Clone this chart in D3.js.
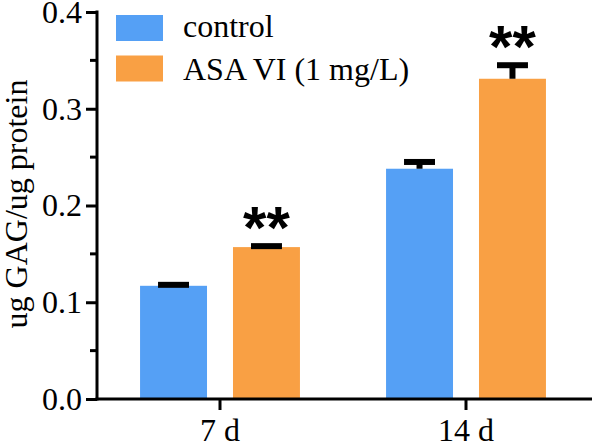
<!DOCTYPE html>
<html><head><meta charset="utf-8">
<script src="https://cdn.jsdelivr.net/npm/d3@7"></script>
<style>
html,body{margin:0;padding:0;background:#fff;}
svg{display:block;}
</style></head>
<body>
<svg id="chart" width="592" height="444"></svg>
<script>
const groups = ["7 d", "14 d"];
const series = ["control", "ASA VI (1 mg/L)"];
const controlValues = [0.117, 0.238];
const controlErrors = [0.001, 0.007];
const asaValues = [0.157, 0.331];
const asaErrors = [0.001, 0.014];
const controlSignificance = ["", ""];
const asaSignificance = ["**", "**"];
const yTicks = [0.0, 0.1, 0.2, 0.3, 0.4];
const yMinorTicks = [0.05, 0.15, 0.25, 0.35];
const yLabel = "ug GAG/ug protein";
const colors = ["#55A0F5", "#F9A044"];

const data = [];
groups.forEach((g, i) => {
  data.push({group: g, series: series[0], value: controlValues[i], err: controlErrors[i], sig: controlSignificance[i]});
  data.push({group: g, series: series[1], value: asaValues[i], err: asaErrors[i], sig: asaSignificance[i]});
});

const svg = d3.select("#chart");
const x0 = d3.scaleBand().domain(groups).range([97, 589]).paddingInner(0.35).paddingOuter(0.175);
const x1 = d3.scaleBand().domain(series).range([0, x0.bandwidth()]).paddingInner(0.2796).paddingOuter(0);
const y = d3.scaleLinear().domain([0, 0.4]).range([399, 12]);
const color = d3.scaleOrdinal().domain(series).range(colors);

const serif = "'Liberation Serif','Times New Roman',serif";
const fs = 32;

// bars
svg.append("g").selectAll("rect").data(data).join("rect")
  .attr("x", d => x0(d.group) + x1(d.series))
  .attr("y", d => y(d.value))
  .attr("width", x1.bandwidth())
  .attr("height", d => y(0) - y(d.value))
  .attr("fill", d => color(d.series));

// error bars
const eb = svg.append("g").attr("stroke", "#000");
eb.selectAll("line.stem").data(data).join("line").attr("class", "stem")
  .attr("x1", d => x0(d.group) + x1(d.series) + x1.bandwidth() / 2)
  .attr("x2", d => x0(d.group) + x1(d.series) + x1.bandwidth() / 2)
  .attr("y1", d => y(d.value))
  .attr("y2", d => y(d.value + d.err))
  .attr("stroke-width", 6);
eb.selectAll("line.cap").data(data).join("line").attr("class", "cap")
  .attr("x1", d => x0(d.group) + x1(d.series) + x1.bandwidth() / 2 - 15.5)
  .attr("x2", d => x0(d.group) + x1(d.series) + x1.bandwidth() / 2 + 15.5)
  .attr("y1", d => y(d.value + d.err))
  .attr("y2", d => y(d.value + d.err))
  .attr("stroke-width", 6);

// significance stars
svg.append("g").selectAll("text").data(data.filter(d => d.sig)).join("text")
  .attr("x", d => x0(d.group) + x1(d.series) + x1.bandwidth() / 2)
  .attr("y", d => y(d.value + d.err) + 2)
  .attr("text-anchor", "middle")
  .attr("font-family", "'Liberation Sans',Arial,sans-serif")
  .attr("font-weight", "bold")
  .attr("font-size", 60)
  .attr("fill", "#000")
  .text(d => d.sig);

// y axis
const yAxis = svg.append("g").attr("transform", "translate(97,0)")
  .call(d3.axisLeft(y).tickValues(yTicks).tickSize(11).tickSizeOuter(0).tickPadding(4).tickFormat(d3.format(".1f")));
yAxis.select(".domain").remove();
yAxis.selectAll(".tick line").attr("stroke", "#000").attr("stroke-width", 3);
yAxis.selectAll(".tick text").attr("font-family", serif).attr("font-size", fs).attr("fill", "#000");
yAxis.append("g").selectAll("line").data(yMinorTicks).join("line")
  .attr("x1", -7).attr("x2", 0)
  .attr("y1", d => y(d)).attr("y2", d => y(d))
  .attr("stroke", "#000").attr("stroke-width", 3);
yAxis.append("line").attr("x1", 0).attr("x2", 0).attr("y1", y(0.4) - 1.5).attr("y2", y(0) + 1.5)
  .attr("stroke", "#000").attr("stroke-width", 3);

// x axis
const xAxis = svg.append("g").attr("transform", `translate(0,${y(0)})`)
  .call(d3.axisBottom(x0).tickSize(11).tickSizeOuter(0).tickPadding(0));
xAxis.select(".domain").remove();
xAxis.selectAll(".tick line").attr("stroke", "#000").attr("stroke-width", 3);
xAxis.selectAll(".tick text").attr("font-family", serif).attr("font-size", fs).attr("fill", "#000")
  .attr("y", 42).attr("dy", null);
xAxis.append("line").attr("x1", 95.5).attr("x2", 592).attr("y1", 0).attr("y2", 0)
  .attr("stroke", "#000").attr("stroke-width", 3);

// y label
svg.append("text")
  .attr("transform", "translate(27,204) rotate(-90)")
  .attr("text-anchor", "middle")
  .attr("font-family", serif).attr("font-size", fs).attr("fill", "#000")
  .text(yLabel);

// legend
const legend = svg.append("g");
series.forEach((s, i) => {
  legend.append("rect").attr("x", 116).attr("y", 15 + i * 40.5).attr("width", 47).attr("height", 26)
    .attr("fill", color(s));
  legend.append("text").attr("x", 183).attr("y", 37 + i * 43)
    .attr("font-family", serif).attr("font-size", fs).attr("fill", "#000").text(s);
});
</script>
</body></html>
